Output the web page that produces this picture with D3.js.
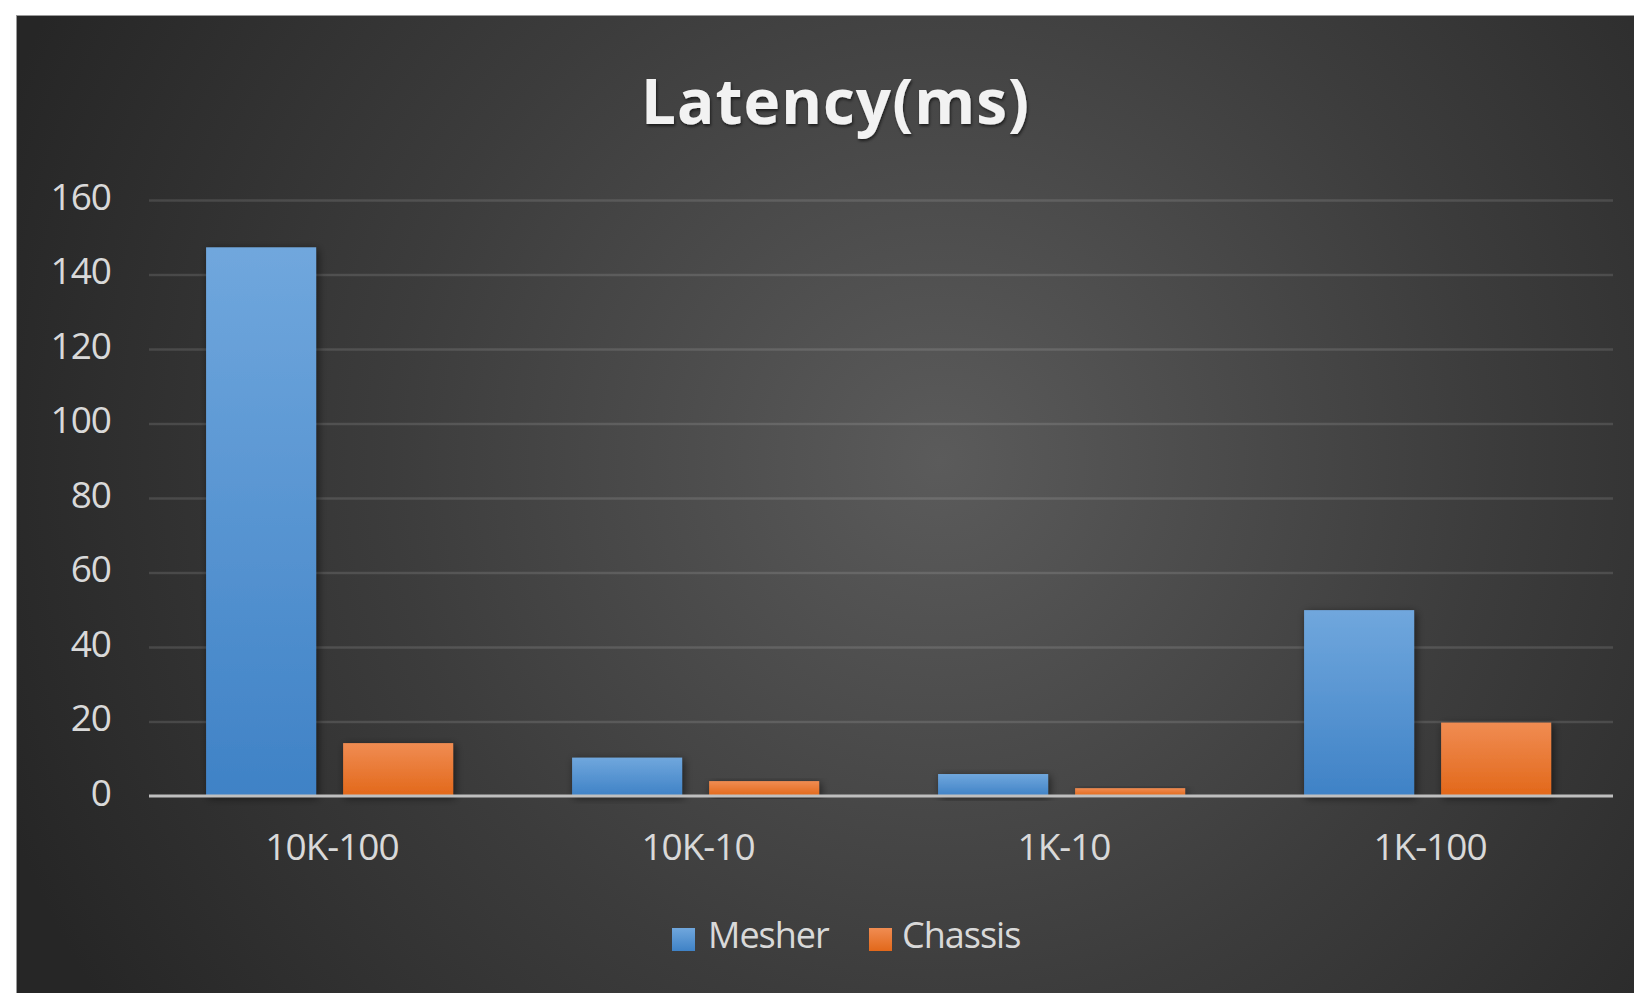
<!DOCTYPE html>
<html>
<head>
<meta charset="utf-8">
<script src="https://cdn.jsdelivr.net/npm/d3@7"></script>
<style>
html,body{margin:0;padding:0;background:#fff;overflow:hidden;}
svg{display:block;}
</style>
</head>
<body>
<svg id="chart" width="1634" height="993"></svg>
<script>
const categories = ["10K-100", "10K-10", "1K-10", "1K-100"];
const seriesNames = ["Mesher", "Chassis"];
const mesher = [147.3, 10.3, 5.9, 49.9];
const chassis = [14.2, 4.0, 2.1, 19.7];
const yTicks = [0, 20, 40, 60, 80, 100, 120, 140, 160];
const title = "Latency(ms)";

const seriesValues = [mesher, chassis];
const data = categories.map((c, i) => ({cat: c, values: seriesNames.map((s, j) => ({series: s, value: seriesValues[j][i]}))}));

const svg = d3.select("#chart");
const W = 1634, H = 993;
const defs = svg.append("defs");

const bg = defs.append("radialGradient").attr("id", "bg")
  .attr("gradientUnits", "userSpaceOnUse")
  .attr("cx", 940).attr("cy", 460).attr("r", 1000);
bg.append("stop").attr("offset", "0").attr("stop-color", "#5b5b5b");
bg.append("stop").attr("offset", "0.55").attr("stop-color", "#3c3c3c");
bg.append("stop").attr("offset", "1").attr("stop-color", "#262626");

const grads = {
  "Mesher": ["#70a7dd", "#3f82c6"],
  "Chassis": ["#f08c52", "#e2681a"]
};
Object.entries(grads).forEach(([k, v]) => {
  const g = defs.append("linearGradient").attr("id", "g" + k)
    .attr("x1", 0).attr("y1", 0).attr("x2", 0).attr("y2", 1);
  g.append("stop").attr("offset", "0").attr("stop-color", v[0]);
  g.append("stop").attr("offset", "1").attr("stop-color", v[1]);
});
const sh = defs.append("filter").attr("id", "shadow").attr("x", "-20%").attr("y", "-20%").attr("width", "140%").attr("height", "140%");
sh.append("feDropShadow").attr("dx", 2).attr("dy", 2).attr("stdDeviation", 4).attr("flood-color", "#000").attr("flood-opacity", 0.55);
const tsh = defs.append("filter").attr("id", "tshadow").attr("x", "-10%").attr("y", "-20%").attr("width", "120%").attr("height", "140%");
tsh.append("feDropShadow").attr("dx", 1).attr("dy", 2).attr("stdDeviation", 1.5).attr("flood-color", "#000").attr("flood-opacity", 0.6);

// chart area background
svg.append("rect").attr("x", 17).attr("y", 16).attr("width", W - 17).attr("height", H - 16)
  .attr("fill", "url(#bg)");
svg.append("line").attr("x1", 16.5).attr("x2", 16.5).attr("y1", 16).attr("y2", H)
  .attr("stroke", "#9a9a9a").attr("stroke-width", 1);
svg.append("line").attr("x1", 16).attr("x2", W).attr("y1", 15.5).attr("y2", 15.5)
  .attr("stroke", "#9a9a9a").attr("stroke-width", 1);

const plot = {left: 149, right: 1613, top: 200, bottom: 796};
const x0 = d3.scaleBand().domain(categories).range([plot.left, plot.right]).paddingInner(0).paddingOuter(0);
const x1 = d3.scaleBand().domain(seriesNames).range([0, x0.bandwidth()]).paddingInner(0.197).paddingOuter(0.434).align(0.48);
const y = d3.scaleLinear().domain([0, 160]).range([plot.bottom, plot.top]);

const font = "'Open Sans', 'Noto Sans', sans-serif";

// gridlines
const yAxis = d3.axisLeft(y).tickValues(yTicks).tickSize(-(plot.right - plot.left)).tickFormat(d3.format("d"));
const ga = svg.append("g").attr("transform", `translate(${plot.left},0)`).call(yAxis);
ga.select(".domain").remove();
ga.selectAll(".tick line").attr("stroke", "#ffffff").attr("stroke-opacity", 0.12).attr("stroke-width", 2.5);
ga.selectAll(".tick text")
  .attr("x", -38).attr("dy", null).attr("y", 9)
  .attr("fill", "#d9d9d9").attr("font-family", font).attr("font-size", 37)
  .attr("letter-spacing", -1)
  .attr("text-anchor", "end").attr("dominant-baseline", "alphabetic");
ga.selectAll(".tick").filter(d => d === 0).select("line").attr("stroke-opacity", 0);

// bars
const groups = svg.append("g").selectAll("g").data(data).join("g")
  .attr("transform", d => `translate(${x0(d.cat)},0)`);
groups.selectAll("rect").data(d => d.values).join("rect")
  .attr("x", d => x1(d.series))
  .attr("y", d => y(d.value))
  .attr("width", x1.bandwidth())
  .attr("height", d => y(0) - y(d.value))
  .attr("fill", d => `url(#g${d.series})`)
  .attr("filter", "url(#shadow)");

// baseline
svg.append("line").attr("x1", plot.left).attr("x2", plot.right)
  .attr("y1", y(0)).attr("y2", y(0))
  .attr("stroke", "#bfbfbf").attr("stroke-width", 3);

// x axis labels
const xAxis = d3.axisBottom(x0).tickSize(0).tickPadding(0);
const gx = svg.append("g").attr("transform", `translate(0,${plot.bottom})`).call(xAxis);
gx.select(".domain").remove();
gx.selectAll(".tick text").attr("y", 64).attr("dy", null)
  .attr("fill", "#d9d9d9").attr("font-family", font).attr("font-size", 37)
  .attr("letter-spacing", -1)
  .attr("dominant-baseline", "alphabetic");

// title
svg.append("text").attr("x", 835).attr("y", 124).attr("text-anchor", "middle")
  .attr("font-family", font).attr("font-weight", "bold").attr("font-size", 62)
  .attr("textLength", 388).attr("lengthAdjust", "spacing")
  .attr("fill", "#f2f2f2").attr("filter", "url(#tshadow)").text(title);

// legend
const legendItems = [
  {name: "Mesher", sx: 672, tx: 708},
  {name: "Chassis", sx: 869, tx: 902}
];
const lg = svg.append("g");
legendItems.forEach(it => {
  lg.append("rect").attr("x", it.sx).attr("y", 928).attr("width", 23).attr("height", 23)
    .attr("fill", `url(#g${it.name})`);
  lg.append("text").attr("x", it.tx).attr("y", 948)
    .attr("font-family", font).attr("font-size", 36).attr("letter-spacing", -1)
    .attr("fill", "#d9d9d9").text(it.name);
});
</script>
</body>
</html>
